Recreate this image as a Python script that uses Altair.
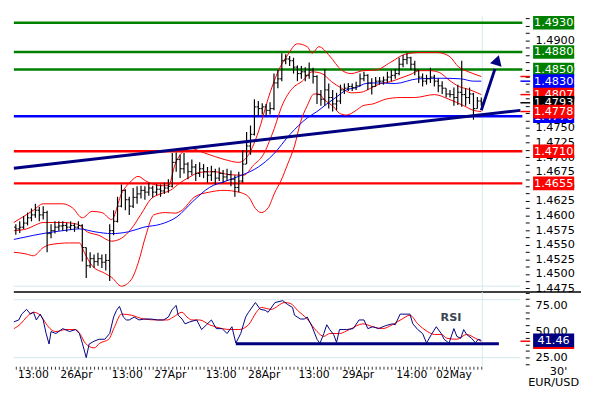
import altair as alt
import pandas as pd

# ---------------- data ----------------
# hourly OHLC bars, t = bar index
close = [1.4577, 1.4580, 1.4587, 1.4596, 1.4601, 1.4609, 1.4601, 1.4605, 1.4569, 1.4574,
         1.4580, 1.4582, 1.4583, 1.4580, 1.4583, 1.4580, 1.4583, 1.4545, 1.4514, 1.4526,
         1.4521, 1.4526, 1.4520, 1.4523, 1.4574, 1.4590, 1.4616, 1.4643, 1.4627, 1.4616,
         1.4631, 1.4637, 1.4643, 1.4640, 1.4647, 1.4640, 1.4645, 1.4642, 1.4647, 1.4650,
         1.4691, 1.4696, 1.4680, 1.4688, 1.4675, 1.4683, 1.4672, 1.4680, 1.4675, 1.4669,
         1.4675, 1.4664, 1.4672, 1.4666, 1.4670, 1.4662, 1.4648, 1.4659, 1.4688, 1.4719,
         1.4739, 1.4786, 1.4783, 1.4786, 1.4780, 1.4783, 1.4827, 1.4834, 1.4865, 1.4868,
         1.4865, 1.4854, 1.4843, 1.4846, 1.4840, 1.4849, 1.4838, 1.4807, 1.4799, 1.4815,
         1.4802, 1.4791, 1.4796, 1.4815, 1.4818, 1.4821, 1.4819, 1.4822, 1.4834, 1.4840,
         1.4827, 1.4821, 1.4830, 1.4830, 1.4832, 1.4837, 1.4840, 1.4843, 1.4859, 1.4867,
         1.4870, 1.4859, 1.4849, 1.4837, 1.4830, 1.4834, 1.4837, 1.4830, 1.4822, 1.4818,
         1.4808, 1.4807, 1.4802, 1.4811, 1.4807, 1.4802, 1.4808, 1.4783, 1.4796, 1.4793]
high = [1.4585, 1.4590, 1.4599, 1.4605, 1.4612, 1.4620, 1.4615, 1.4616, 1.4608, 1.4585,
        1.4590, 1.4590, 1.4590, 1.4588, 1.4590, 1.4587, 1.4590, 1.4585, 1.4545, 1.4537,
        1.4533, 1.4536, 1.4533, 1.4534, 1.4585, 1.4609, 1.4632, 1.4653, 1.4645, 1.4632,
        1.4647, 1.4650, 1.4651, 1.4650, 1.4656, 1.4651, 1.4654, 1.4653, 1.4656, 1.4662,
        1.4707, 1.4708, 1.4704, 1.4707, 1.4691, 1.4696, 1.4688, 1.4691, 1.4688, 1.4683,
        1.4685, 1.4680, 1.4682, 1.4678, 1.4680, 1.4677, 1.4669, 1.4675, 1.4712, 1.4743,
        1.4754, 1.4799, 1.4796, 1.4792, 1.4791, 1.4794, 1.4843, 1.4849, 1.4878, 1.4876,
        1.4873, 1.4870, 1.4857, 1.4856, 1.4854, 1.4862, 1.4853, 1.4840, 1.4815, 1.4851,
        1.4826, 1.4815, 1.4810, 1.4824, 1.4826, 1.4827, 1.4826, 1.4829, 1.4843, 1.4846,
        1.4842, 1.4835, 1.4837, 1.4837, 1.4838, 1.4846, 1.4849, 1.4851, 1.4870, 1.4875,
        1.4878, 1.4872, 1.4865, 1.4849, 1.4843, 1.4841, 1.4853, 1.4841, 1.4835, 1.4830,
        1.4818, 1.4815, 1.4819, 1.4824, 1.4865, 1.4818, 1.4819, 1.4810, 1.4803, 1.4802]
low = [1.4567, 1.4570, 1.4577, 1.4583, 1.4590, 1.4596, 1.4590, 1.4593, 1.4537, 1.4561,
       1.4569, 1.4574, 1.4574, 1.4572, 1.4575, 1.4572, 1.4577, 1.4521, 1.4493, 1.4510,
       1.4510, 1.4514, 1.4510, 1.4506, 1.4488, 1.4566, 1.4588, 1.4614, 1.4609, 1.4601,
       1.4613, 1.4620, 1.4629, 1.4627, 1.4634, 1.4631, 1.4635, 1.4632, 1.4637, 1.4639,
       1.4648, 1.4675, 1.4664, 1.4672, 1.4662, 1.4669, 1.4659, 1.4666, 1.4664, 1.4656,
       1.4659, 1.4653, 1.4659, 1.4656, 1.4659, 1.4650, 1.4632, 1.4640, 1.4656, 1.4688,
       1.4704, 1.4737, 1.4770, 1.4773, 1.4770, 1.4773, 1.4780, 1.4818, 1.4830, 1.4859,
       1.4856, 1.4843, 1.4830, 1.4834, 1.4830, 1.4834, 1.4826, 1.4791, 1.4788, 1.4788,
       1.4783, 1.4778, 1.4780, 1.4791, 1.4808, 1.4813, 1.4813, 1.4815, 1.4821, 1.4830,
       1.4815, 1.4807, 1.4821, 1.4824, 1.4824, 1.4827, 1.4830, 1.4834, 1.4840, 1.4854,
       1.4859, 1.4849, 1.4840, 1.4827, 1.4821, 1.4824, 1.4827, 1.4821, 1.4811, 1.4808,
       1.4802, 1.4802, 1.4788, 1.4789, 1.4786, 1.4788, 1.4791, 1.4764, 1.4783, 1.4788]
first_open = 1.4580

# Bollinger bands (red) and moving average (blue)
bb_up_t = [-0.5, 4.5, 7, 12, 14.5, 17, 19.5, 22, 24.5, 27, 29.5, 31.25, 33.25, 37, 39, 40.75,
           42.5, 44.5, 48.25, 53.25, 57, 59.5, 62, 64.5, 67, 69.5, 72, 74.5, 75.75, 77.5, 80.25,
           83.25, 85.75, 88.75, 92, 95.75, 99.5, 103.25, 107.75, 110.75, 113.25, 115.75, 119]
bb_up = [1.4588, 1.4609, 1.4620, 1.4620, 1.4613, 1.4596, 1.4607, 1.4605, 1.4593, 1.4637,
         1.4659, 1.4667, 1.4659, 1.4651, 1.4651, 1.4688, 1.4708, 1.4715, 1.4707, 1.4696,
         1.4691, 1.4704, 1.4743, 1.4800, 1.4846, 1.4875, 1.4894, 1.4889, 1.4878, 1.4889,
         1.4873, 1.4849, 1.4843, 1.4848, 1.4849, 1.4862, 1.4876, 1.4879, 1.4879, 1.4873,
         1.4854, 1.4846, 1.4838]
bb_mid_t = [-0.5, 2.75, 4.5, 7, 12, 15.75, 18.25, 21.25, 24.5, 27, 29.5, 32, 34.5, 37, 39.5,
            42, 44.5, 47, 50.75, 54.5, 58.25, 60.75, 63.25, 65.75, 68.25, 70.75, 73.25, 75.75,
            78.25, 80.75, 83.25, 85.75, 88.25, 90.75, 93.25, 95.75, 98.25, 100.75, 103.25,
            105.75, 108.25, 110.75, 113.25, 115.75, 119]
bb_mid = [1.4574, 1.4577, 1.4582, 1.4588, 1.4588, 1.4585, 1.4572, 1.4566, 1.4556, 1.4561,
          1.4577, 1.4602, 1.4628, 1.4637, 1.4643, 1.4656, 1.4666, 1.4674, 1.4675, 1.4670,
          1.4669, 1.4686, 1.4704, 1.4743, 1.4791, 1.4818, 1.4830, 1.4846, 1.4843, 1.4829,
          1.4818, 1.4810, 1.4811, 1.4818, 1.4826, 1.4829, 1.4835, 1.4841, 1.4848, 1.4848,
          1.4845, 1.4832, 1.4821, 1.4816, 1.4807]
bb_lo_t = [-0.5, 2.75, 4.5, 7, 8.75, 13.75, 16.25, 17.5, 19.5, 22.75, 24.5, 27, 29.5, 31.25,
           33.25, 35.25, 38.25, 40.75, 42.5, 45.75, 49.5, 53.25, 57, 59.5, 61.25, 62.75, 64.5,
           66.25, 67.75, 69.5, 71.25, 72.75, 74.5, 76.25, 77.5, 78.75, 81.25, 82.75, 84.5, 87,
           88.75, 91.25, 94.5, 98.25, 102, 107, 110.75, 114.5, 117, 119]
bb_lo = [1.4537, 1.4534, 1.4531, 1.4545, 1.4550, 1.4553, 1.4553, 1.4537, 1.4514, 1.4501,
         1.4494, 1.4479, 1.4490, 1.4518, 1.4566, 1.4601, 1.4605, 1.4604, 1.4609, 1.4632,
         1.4640, 1.4643, 1.4640, 1.4632, 1.4612, 1.4605, 1.4613, 1.4640, 1.4659, 1.4688,
         1.4719, 1.4759, 1.4788, 1.4808, 1.4808, 1.4799, 1.4786, 1.4775, 1.4772, 1.4780,
         1.4788, 1.4791, 1.4799, 1.4802, 1.4802, 1.4807, 1.4799, 1.4788, 1.4780, 1.4778]
ma_t = [-0.5, 4.5, 7.75, 12, 16.25, 20.25, 24.5, 28.75, 32.75, 37, 41.25, 45.25, 49.5, 53.75,
        57.75, 62, 65.75, 70.25, 74.5, 77, 79.5, 82, 84.5, 87, 89.5, 92, 97, 102.75, 108.75,
        113.75, 117, 119]
ma = [1.4559, 1.4566, 1.4570, 1.4574, 1.4577, 1.4572, 1.4569, 1.4572, 1.4580, 1.4585,
      1.4598, 1.4624, 1.4648, 1.4659, 1.4669, 1.4683, 1.4704, 1.4740, 1.4767, 1.4778,
      1.4791, 1.4803, 1.4815, 1.4819, 1.4826, 1.4827, 1.4826, 1.4834, 1.4835, 1.4834,
      1.4830, 1.4830]

# RSI (navy) and its average (red)
rsi_t = [-0.5, 0.75, 1.5, 2.75, 3.75, 4.5, 5.25, 6.25, 7, 7.75, 8.5, 9, 10.25, 12, 13.75,
         15.25, 16.25, 17, 18, 18.75, 20, 21.25, 22.75, 24, 25, 25.75, 26.5, 27.5, 28.25, 29,
         30.25, 31.5, 32.75, 34.5, 36.25, 37.75, 39, 40, 41, 41.5, 42.5, 43.25, 44.5, 46.25,
         47.5, 48.75, 50, 51.25, 52.75, 54, 55.25, 56.25, 57.5, 58.75, 59.5, 61.25, 62.5,
         63.75, 64.5, 66.25, 68.25, 69.5, 70.75, 71.25, 72.75, 73.75, 74.5, 75.75, 77, 77.75,
         78.75, 79.5, 80.25, 81.25, 82, 82.75, 84.5, 86.25, 87.75, 89, 90, 91.25, 92.75, 94.5,
         96.25, 97, 98.25, 99.5, 100.75, 101.5, 102.75, 104, 105, 106.25, 107.5, 108.75, 109.5,
         110.75, 112, 112.75, 113.75, 114.5, 115.25, 116.5, 117.5, 118.25, 119]
rsi = [59.3, 61.1, 66.7, 71.3, 66.7, 68.5, 61.1, 66.7, 61.1, 48.1, 38.0, 50.0, 48.1, 52.8,
       50.0, 51.9, 48.1, 38.9, 25.0, 38.0, 40.7, 42.6, 42.6, 48.1, 63.9, 70.4, 74.1, 63.9,
       61.1, 61.1, 63.9, 61.1, 62.0, 62.0, 61.1, 61.1, 63.9, 71.3, 75.0, 65.7, 62.0, 57.4,
       59.3, 61.1, 51.9, 56.5, 61.1, 52.8, 52.8, 48.1, 54.6, 38.9, 48.1, 63.9, 68.5, 77.8,
       71.3, 70.4, 68.5, 77.8, 79.6, 75.9, 73.1, 65.7, 62.0, 62.0, 63.9, 54.6, 42.6, 38.7,
       48.1, 56.5, 51.9, 47.2, 39.5, 51.9, 51.9, 52.8, 61.1, 61.1, 52.8, 54.6, 52.8, 55.6,
       57.4, 56.5, 66.7, 66.7, 66.7, 57.4, 51.9, 48.1, 39.0, 47.2, 54.6, 48.1, 42.6, 38.8,
       52.8, 45.4, 43.5, 51.9, 47.2, 43.5, 39.3, 42.6, 41.46]
rsi_ma_t = [-0.5, 1.25, 2.75, 4.5, 6.25, 7.75, 9, 10.25, 12.75, 15.25, 16.5, 17.75, 20, 21.5,
            23.75, 25.25, 27, 29.5, 32.75, 36.25, 38.75, 40.25, 42.5, 43.75, 45, 47, 49.5,
            52.75, 55, 57, 59.5, 61.5, 62.75, 65.25, 68.75, 70.25, 72, 74.5, 77, 78.75, 80.25,
            82.75, 85.25, 88.75, 91.25, 93.75, 96.25, 98.75, 100.75, 102.75, 105.25, 107,
            108.75, 110.25, 112.75, 115.25, 117.5, 119]
rsi_ma = [52.8, 57.4, 63.9, 68.5, 65.7, 57.4, 51.9, 50.0, 51.9, 51.9, 47.2, 38.9, 34.3, 38.9,
          42.6, 54.6, 66.7, 65.7, 62.0, 61.1, 61.1, 63.9, 68.5, 63.9, 61.1, 61.1, 56.5, 52.8,
          51.9, 51.9, 56.5, 68.5, 73.1, 71.3, 77.8, 76.9, 70.4, 62.0, 50.0, 45.4, 48.1, 48.1,
          51.9, 57.4, 54.6, 52.8, 56.5, 62.0, 65.7, 57.4, 50.0, 47.2, 47.2, 43.5, 42.6, 47.2,
          43.5, 40.7]
rsi_support_t = [56.25, 123.5]
rsi_support = 38.3
rsi_now = 41.46
rsi_ma_now = 40.7

# horizontal levels
levels = [1.4930, 1.4880, 1.4850, 1.4770, 1.4710, 1.4655]
level_colors = ["#008000", "#008000", "#008000", "#0000ff", "#ff0000", "#ff0000"]
trend_t = [-0.5, 129.0]
trend_p = [1.4681, 1.4780]
arrow_t = [119.0, 122.5]
arrow_p = [1.4780, 1.4851]
arrow_head_t = [123.1]
arrow_head_p = [1.4866]
now_t = 119.25

# right-hand price tags (drawing order matters)
tag_values = [1.4930, 1.4880, 1.4850, 1.4830, 1.4807, 1.4770, 1.4793, 1.4778, 1.4710, 1.4655]
tag_colors = ["#008000", "#008000", "#008000", "#0000ff", "#ff0000", "#0000ff", "#000000",
              "#ff0000", "#ff0000", "#ff0000"]
marker_values = [1.4838, 1.4830, 1.4807, 1.4793, 1.4778]
marker_colors = ["#ff0000", "#0000ff", "#ff0000", "#000000", "#ff0000"]

x_label_t = [4.5, 15.5, 28.5, 39.5, 52.5, 63.5, 76.25, 87.5, 101.25, 112]
x_label_text = ["13:00", "26Apr", "13:00", "27Apr", "13:00", "28Apr", "13:00", "29Apr",
                "14:00", "02May"]

# ---------------- layout / styles ----------------
W, HP, HR = 520, 282, 76
XDOM = [-0.5, 129.5]
PDOM = [1.44691, 1.49413]
RDOM = [16.7, 88.0]
FONT = "DejaVu Sans"
NAVY, RED, BLUE, LIGHT = "#000080", "#ff0000", "#0000ff", "#d3e8ee"

xs = alt.Scale(domain=XDOM, nice=False, zero=False)
ps = alt.Scale(domain=PDOM, nice=False, zero=False)
rs = alt.Scale(domain=RDOM, nice=False, zero=False)

ptick = [round(1.4475 + 0.00125 * k, 5) for k in range(38)]
rtick = [18.75 + 6.25 * k for k in range(12)]

PAXIS = alt.Axis(orient="right", values=ptick,
                 labelExpr="abs(round(datum.value * 10000)) % 25 == 0 ? format(datum.value, '.4f') : ''",
                 offset=3, tickSize=4, tickColor="black", tickWidth=1, domain=False, grid=False,
                 labelFont=FONT, labelFontSize=11.5, labelColor="black", labelPadding=6,
                 labelOverlap=False, labelFlush=False, title=None)
RAXIS = alt.Axis(orient="right", values=rtick,
                 labelExpr="(datum.value == 25 || datum.value == 50 || datum.value == 75) ? format(datum.value, '.2f') : ''",
                 offset=3, tickSize=4, tickColor="black", tickWidth=1, domain=False, grid=False,
                 labelFont=FONT, labelFontSize=11.5, labelColor="black", labelPadding=6,
                 labelOverlap=False, labelFlush=False, title=None)
XAXIS_R = alt.Axis(orient="bottom", values=list(range(0, 120)), labels=False, domain=False,
                   ticks=True, tickSize=3, tickColor="#333333", grid=False, title=None)


def X(f):
    return alt.X(f, type="quantitative", scale=xs, axis=None)


def XR(f):
    return alt.X(f, type="quantitative", scale=xs, axis=XAXIS_R)


def P(f):
    return alt.Y(f, type="quantitative", scale=ps, axis=PAXIS)


def R(f):
    return alt.Y(f, type="quantitative", scale=rs, axis=RAXIS)


# ---------------- price panel ----------------
opens = [first_open] + close[:-1]
bars = pd.DataFrame({"t": list(range(len(close))), "o": opens, "h": high, "l": low, "c": close})
bb_df = pd.concat([
    pd.DataFrame({"t": bb_up_t, "p": bb_up, "band": "up"}),
    pd.DataFrame({"t": bb_mid_t, "p": bb_mid, "band": "mid"}),
    pd.DataFrame({"t": bb_lo_t, "p": bb_lo, "band": "lo"}),
])
ma_df = pd.DataFrame({"t": ma_t, "p": ma})
lev_df = pd.DataFrame({"p": levels, "c": level_colors})
one = pd.DataFrame({"a": [0]})

layers = []
layers.append(alt.Chart(pd.DataFrame({"t1": [-0.5], "t2": [129.0], "p": [1.4479]}))
              .mark_rule(color=LIGHT, strokeWidth=1).encode(x=X("t1"), x2="t2", y=P("p")))
layers.append(alt.Chart(pd.DataFrame({"t": [now_t]})).mark_rule(color=LIGHT, strokeWidth=1)
              .encode(x=X("t")))
layers.append(alt.Chart(lev_df).mark_rule(strokeWidth=2.5)
              .encode(y=P("p"), color=alt.Color("c:N", scale=None)))
layers.append(alt.Chart(bb_df).mark_line(color=RED, strokeWidth=1, interpolate="monotone")
              .encode(x=X("t"), y=P("p"), detail="band:N"))
layers.append(alt.Chart(ma_df).mark_line(color=BLUE, strokeWidth=1, interpolate="monotone")
              .encode(x=X("t"), y=P("p")))
layers.append(alt.Chart(bars).mark_rule(color="black", strokeWidth=1.2)
              .encode(x=X("t"), y=P("l"), y2="h"))
layers.append(alt.Chart(bars).transform_calculate(tl="datum.t - 0.45")
              .mark_rule(color="black", strokeWidth=1).encode(x=X("tl"), x2="t", y=P("o")))
layers.append(alt.Chart(bars).transform_calculate(tr="datum.t + 0.45")
              .mark_rule(color="black", strokeWidth=1).encode(x=X("t"), x2="tr", y=P("c")))
layers.append(alt.Chart(pd.DataFrame({"t": trend_t, "p": trend_p}))
              .mark_line(color=NAVY, strokeWidth=3).encode(x=X("t"), y=P("p")))
layers.append(alt.Chart(pd.DataFrame({"t": arrow_t, "p": arrow_p}))
              .mark_line(color=NAVY, strokeWidth=3).encode(x=X("t"), y=P("p")))
layers.append(alt.Chart(pd.DataFrame({"t": arrow_head_t, "p": arrow_head_p}))
              .mark_point(shape="triangle-up", filled=True, size=150, angle=17, color=NAVY,
                          opacity=1).encode(x=X("t"), y=P("p")))
layers.append(alt.Chart(one).mark_rule(color="black", strokeWidth=1.5)
              .encode(x=alt.value(0), x2=alt.value(580), y=alt.value(HP)))
layers.append(alt.Chart(pd.DataFrame({"p": marker_values, "c": marker_colors}))
              .mark_rule(strokeWidth=1.5)
              .encode(x=alt.value(518), x2=alt.value(528), y=P("p"),
                      color=alt.Color("c:N", scale=None)))
for v, col in zip(tag_values, tag_colors):
    d = pd.DataFrame({"p": [v], "s": [f"{v:.4f}"]})
    layers.append(alt.Chart(d).mark_rule(color=col, strokeWidth=14, strokeCap="butt")
                  .encode(x=alt.value(531), x2=alt.value(573), y=P("p")))
    layers.append(alt.Chart(d).mark_text(color="white", font=FONT, fontSize=11.5,
                                         align="center", baseline="middle", dy=0.5)
                  .encode(x=alt.value(552), y=P("p"), text="s:N"))

price = alt.layer(*layers).properties(width=W, height=HP)

# ---------------- RSI panel ----------------
rl = []
rl.append(alt.Chart(pd.DataFrame({"t1": [-0.5, -0.5], "t2": [129.0, 129.0], "v": [80.5, 25.0]}))
          .mark_rule(color=LIGHT, strokeWidth=1).encode(x=XR("t1"), x2="t2", y=R("v")))
rl.append(alt.Chart(pd.DataFrame({"t": [now_t]})).mark_rule(color=LIGHT, strokeWidth=1)
          .encode(x=XR("t")))
rl.append(alt.Chart(pd.DataFrame({"t1": [rsi_support_t[0]], "t2": [rsi_support_t[1]],
                                  "v": [rsi_support]}))
          .mark_rule(color=NAVY, strokeWidth=3).encode(x=XR("t1"), x2="t2", y=R("v")))
rl.append(alt.Chart(pd.DataFrame({"t": rsi_ma_t, "v": rsi_ma}))
          .mark_line(color=RED, strokeWidth=1, interpolate="monotone")
          .encode(x=XR("t"), y=R("v")))
rl.append(alt.Chart(pd.DataFrame({"t": rsi_t, "v": rsi}))
          .mark_line(color=NAVY, strokeWidth=1).encode(x=XR("t"), y=R("v")))
rl.append(alt.Chart(pd.DataFrame({"t": [111.25], "v": [63.0], "s": ["RSI"]}))
          .mark_text(font=FONT, fontSize=11.5, fontWeight="bold", color="#3a4652",
                     align="center", baseline="middle")
          .encode(x=XR("t"), y=R("v"), text="s:N"))
rl.append(alt.Chart(pd.DataFrame({"v": [rsi_ma_now]})).mark_rule(color=RED, strokeWidth=1.5)
          .encode(x=alt.value(518), x2=alt.value(528), y=R("v")))
rl.append(alt.Chart(pd.DataFrame({"v": [rsi_now]}))
          .mark_rule(color=NAVY, strokeWidth=14, strokeCap="butt")
          .encode(x=alt.value(531), x2=alt.value(573), y=R("v")))
rl.append(alt.Chart(pd.DataFrame({"v": [rsi_now - 7.3]})).mark_rule(color=RED, strokeWidth=2)
          .encode(x=alt.value(531), x2=alt.value(573), y=R("v")))
rl.append(alt.Chart(pd.DataFrame({"v": [rsi_now], "s": [f"{rsi_now:.2f}"]}))
          .mark_text(color="white", font=FONT, fontSize=11.5, align="center",
                     baseline="middle", dy=0.5)
          .encode(x=alt.value(552), y=R("v"), text="s:N"))
rl.append(alt.Chart(pd.DataFrame({"t": x_label_t, "s": x_label_text}))
          .mark_text(font=FONT, fontSize=11, color="black", align="center", baseline="middle")
          .encode(x=XR("t"), y=alt.value(HR + 9), text="s:N"))
rl.append(alt.Chart(pd.DataFrame({"s": ["30'"]}))
          .mark_text(font=FONT, fontSize=11.5, color="black", align="center", baseline="middle")
          .encode(x=alt.value(557), y=alt.value(HR + 6), text="s:N"))
rl.append(alt.Chart(pd.DataFrame({"s": ["EUR/USD"]}))
          .mark_text(font=FONT, fontSize=11.5, color="black", align="center", baseline="middle")
          .encode(x=alt.value(552), y=alt.value(HR + 17), text="s:N"))

rsi_chart = alt.layer(*rl).properties(width=W, height=HR)

chart = (alt.vconcat(price, rsi_chart, spacing=0, bounds="flush")
         .properties(padding=0, background="white")
         .configure_view(stroke=None))

chart.save("out.html", embed_options={"renderer": "svg", "actions": False})
